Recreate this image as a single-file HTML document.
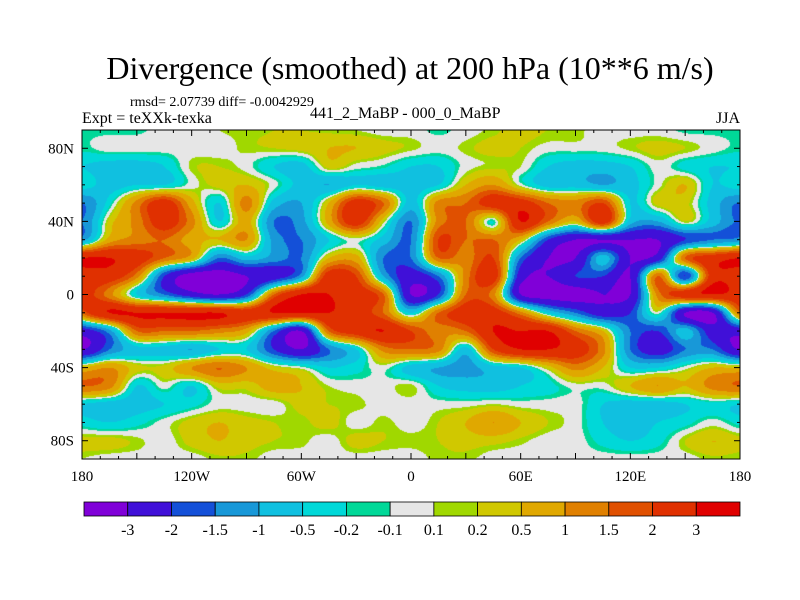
<!DOCTYPE html>
<html><head><meta charset="utf-8"><style>
body{margin:0;background:#fff;}
#wrap{position:relative;width:800px;height:600px;font-family:"Liberation Serif",serif;color:#000;overflow:hidden;}
.t{position:absolute;white-space:nowrap;}
</style></head><body>
<div id="wrap">
<div class="t" style="left:0;width:820px;text-align:center;top:50px;font-size:32px;">Divergence (smoothed) at 200 hPa (10**6 m/s)</div>
<div class="t" style="left:130px;top:95px;font-size:14px;">rmsd= 2.07739 diff= -0.0042929</div>
<div class="t" style="left:82px;top:110px;font-size:16px;">Expt = teXXk-texka</div>
<div class="t" style="left:310px;top:105px;font-size:16px;">441_2_MaBP - 000_0_MaBP</div>
<div class="t" style="right:60px;top:110px;font-size:16px;">JJA</div>
<canvas id="map" width="658" height="329" style="position:absolute;left:82px;top:130px;"></canvas>
<svg id="ov" width="800" height="600" style="position:absolute;left:0;top:0;"></svg>
</div>
<script>
const lons=[-180,-165,-150,-135,-120,-105,-90,-75,-60,-45,-30,-15,0,15,30,45,60,75,90,105,120,135,150,165];
const lats=[90,80,70,60,50,40,30,20,10,0,-10,-20,-30,-40,-50,-60,-70,-80,-90];
const r90N=[-0.15,-0.15,-0.15,0,0,0.1,0.15,0.2,0.2,0.15,0.1,0,0,-0.15,0,0.15,0.3,0.2,0.15,0,0,0,-0.15,-0.15];
const r80N=[-0.15,0,0,0,0,0,0.15,0.2,0.3,0.5,0.5,0.3,0.15,0,0.15,0.3,0.2,0,0,0,0.15,0.3,0.2,0];
const r70N=[-0.5,-0.7,-0.7,-0.5,0.15,0.2,0,-0.5,-0.7,0.3,0,-0.15,-0.5,-0.5,0,0.15,0.1,-0.5,-0.7,-0.7,-0.5,0,-0.3,-0.5];
const r60N=[-0.3,-0.7,-0.5,-0.5,0,0.3,0.5,0,-0.7,-1.0,-0.5,-0.7,-0.7,-0.5,0.5,1.0,0,-0.7,-0.7,-1.0,-0.7,0,0.5,-0.5];
const r50N=[-1.5,-0.3,1.2,2.5,0.7,-0.5,1.2,-0.7,-1.0,0.5,2.5,1.5,-0.7,1.2,1.5,2.5,2.5,1.5,1.2,2.0,-0.5,0.3,0.3,-0.7];
const r40N=[-1.5,0.3,1.2,2.5,1.2,-0.5,0.7,-1.5,-1.2,0.7,2.5,0.2,-1.5,1.2,1.5,-0.2,3,1.5,0.5,2.5,-0.7,-1.0,0.2,-0.7];
const r30N=[-1.2,0.7,1.2,1.5,0.7,0.5,1.0,-1.2,-1.5,-0.5,0,-0.7,-1.5,2.0,1.5,1.5,0.5,-2,-3,-3,-3,-3,-2,-1.5];
const r20N=[3,3,2.5,1.5,0.7,-1.5,-0.7,-1.2,-1.5,0.5,0.7,-1.5,-1.5,1.5,1.2,2.0,-1.5,-3,-3,-0.7,-3,-2.5,1.5,2.5];
const r10N=[2.5,2.5,1.2,-2,-3.5,-3.5,-3,-2.5,-1.2,2.5,2.0,-1,-2.5,-1.5,1.2,2.5,-2.5,-3,-2,-2,-3,1.5,-2,2.5];
const rEq=[2.5,1.2,-0.5,-1.5,-2.5,-3,-2,1.5,3,3,2.5,1.5,-3,-2,1.5,1.2,-3,-3.5,-3.5,-3,-3,1.2,2.5,3];
const r10S=[1.5,3,3,3,3,3,2.5,3,3,3,2.5,1.5,-0.5,1.5,2.5,2.5,1.2,-0.5,-1.5,-2.5,-2,0,-3,-3];
const r20S=[-2.5,-1.2,1.5,1.5,1.5,1.2,0.7,-1.5,-3,1.5,2.5,3,2,1.2,1.5,3,3,3,1.5,0.5,-1.5,-2,-0.7,-2.5];
const r30S=[-3,-1.5,-0.7,-0.7,-1.0,-0.5,-0.5,-2,-3,-1.5,-0.5,1.2,1.5,1.2,-0.7,2,3,3,2.5,1.2,-1.5,-2.5,-1.5,-1.5];
const r40S=[0.5,1.0,0.3,0.3,1.0,1.5,1.0,0.3,0,-0.5,-0.3,0,-0.7,-1,-1.2,-0.7,-0.5,0.3,1.2,0.5,-0.5,-0.5,0,0.5];
const r50S=[1.5,1.2,-0.5,0,-0.5,0.3,0.3,0.7,0.5,0.1,0,0,0.15,-0.5,-0.7,-0.7,-0.5,-0.3,0,0,0.5,1.0,0.5,1.2];
const r60S=[-0.5,-0.7,-0.7,-0.5,-0.3,0,0,0,0.3,0.2,0.15,0,0,0,0,0.1,0,0,0,-0.5,-0.7,-0.7,-0.5,-0.3];
const r70S=[-0.3,-0.5,-0.3,0,0.3,0.5,0.3,0.2,0.15,0.3,0,0.15,0,0.2,0.5,1.0,0.5,0.2,0,-0.5,-0.7,-0.5,-0.3,0];
const r80S=[0.3,0.3,0.15,0,0.3,0.5,0.3,0.2,0.15,0,0.3,0.2,0.15,0.2,0.3,0.3,0.15,0,0,-0.3,-0.5,-0.3,0.2,0.5];
const r90S=[0.1,0,0,0,0,0.15,0.15,0,0,0,0,0,0,0.15,0.15,0,0,0,0,0,0,0,0,0.15];
const grid=[r90N,r80N,r70N,r60N,r50N,r40N,r30N,r20N,r10N,rEq,r10S,r20S,r30S,r40S,r50S,r60S,r70S,r80S,r90S];
const levels=[-3,-2,-1.5,-1,-0.5,-0.2,-0.1,0.1,0.2,0.5,1,1.5,2,3];
const levelLabels=["-3","-2","-1.5","-1","-0.5","-0.2","-0.1","0.1","0.2","0.5","1","1.5","2","3"];
const colors=["#8000d8","#4010d8","#1450d8","#1898d8","#10c0e0","#00d8d8","#00d898","#e6e6e6","#a0d800","#d0c800","#e0a800","#e08000","#e05000","#e03000","#e00000"];
const lonTicks=[-180,-120,-60,0,60,120,180];
const lonTickLabels=["180","120W","60W","0","60E","120E","180"];
const latTicks=[80,40,0,-40,-80];
const latTickLabels=["80N","40N","0","40S","80S"];

const X0=82,X1=740,Y0=130,Y1=459;
function xs(lon){return X0+(lon+180)/360*(X1-X0);}
function ys(lat){return Y0+(90-lat)/180*(Y1-Y0);}
function cr(p0,p1,p2,p3,t){return 0.5*((2*p1)+(-p0+p2)*t+(2*p0-5*p1+4*p2-p3)*t*t+(-p0+3*p1-3*p2+p3)*t*t*t);}
const nLon=lons.length,nLat=lats.length,dLon=360/nLon,dLat=180/(nLat-1);
function g(j,i){j=Math.max(0,Math.min(nLat-1,j));i=((i%nLon)+nLon)%nLon;return grid[j][i];}
function val(lon,lat){
  const fi=(lon-lons[0])/dLon, fj=(lats[0]-lat)/dLat;
  const i=Math.floor(fi),j=Math.floor(fj),tx=fi-i,ty=fj-j;
  const r=[];
  for(let k=-1;k<3;k++){r.push(cr(g(j+k,i-1),g(j+k,i),g(j+k,i+1),g(j+k,i+2),tx));}
  return cr(r[0],r[1],r[2],r[3],ty);
}
function hex(c){return [parseInt(c.substr(1,2),16),parseInt(c.substr(3,2),16),parseInt(c.substr(5,2),16)];}
const rgb=colors.map(hex);
const cv=document.getElementById('map'),ctx=cv.getContext('2d');
const W=cv.width,H=cv.height,img=ctx.createImageData(W,H);
for(let py=0;py<H;py++){const lat=90-(py+0.5)/H*180;
  for(let px=0;px<W;px++){const lon=-180+(px+0.5)/W*360;
    const v=val(lon,lat);let k=0;while(k<levels.length&&v>=levels[k])k++;
    const c=rgb[k],o=(py*W+px)*4;img.data[o]=c[0];img.data[o+1]=c[1];img.data[o+2]=c[2];img.data[o+3]=255;}}
ctx.putImageData(img,0,0);

const NS='http://www.w3.org/2000/svg',svg=document.getElementById('ov');
function mk(t,a,txt){const e=document.createElementNS(NS,t);for(const k in a)e.setAttribute(k,a[k]);if(txt!==undefined)e.textContent=txt;svg.appendChild(e);return e;}
let e=mk('rect',{x:X0,y:Y0,width:X1-X0,height:Y1-Y0,fill:'none',stroke:'#000','stroke-width':1});


for(let lon=-180;lon<=180;lon+=10){const x=xs(lon),L=(lon%30===0)?6:3;
  e=mk('line',{x1:x,x2:x,y1:Y1,y2:Y1-L,stroke:'#000'});
  
  
  e=mk('line',{x1:x,x2:x,y1:Y0,y2:Y0+L,stroke:'#000'});
  
  }
for(let lat=-90;lat<=90;lat+=10){const y=ys(lat),L=(lat%40===0)?6:3;
  e=mk('line',{x1:X0,x2:X0+L,y1:y,y2:y,stroke:'#000'});
  
  
  e=mk('line',{x1:X1,x2:X1-L,y1:y,y2:y,stroke:'#000'});
  
  }
lonTicks.forEach((lon,i)=>{e=mk('text',{x:xs(lon),y:Y1+22,'text-anchor':'middle','font-size':15,'font-family':'Liberation Serif, serif'},lonTickLabels[i]);
  
  });
latTicks.forEach((lat,i)=>{e=mk('text',{x:X0-8,y:ys(lat)+5,'text-anchor':'end','font-size':15,'font-family':'Liberation Serif, serif'},latTickLabels[i]);
  
  });
// colorbar
const CX0=84,CX1=740,CY=502,CH=14,bw=(CX1-CX0)/colors.length;
colors.forEach((c,i)=>{e=mk('rect',{x:CX0+i*bw,y:CY,width:bw,height:CH,fill:c,stroke:'#000','stroke-width':0.8});
  
  });
levelLabels.forEach((t,i)=>{e=mk('text',{x:CX0+(i+1)*bw,y:CY+CH+19,'text-anchor':'middle','font-size':16,'font-family':'Liberation Serif, serif'},t);
  
  });
</script>
</body></html>
